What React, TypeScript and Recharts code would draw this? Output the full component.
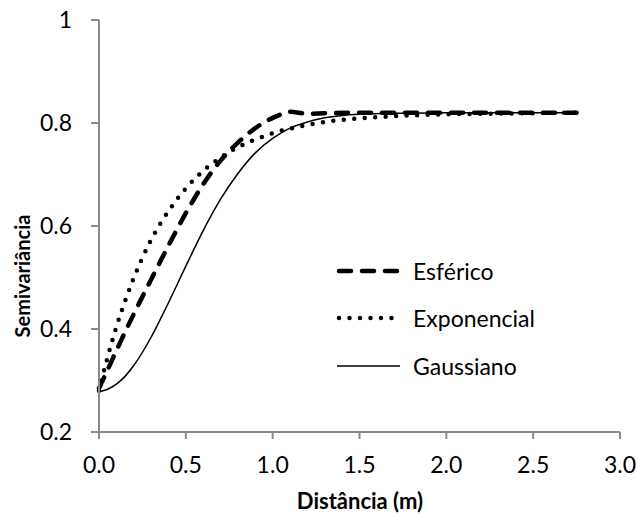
import { Label, Line, LineChart, XAxis, YAxis } from 'recharts';

// distância (m) e semivariância estimada por cada modelo ajustado
const distancias = [
  0, 0.05, 0.1, 0.15, 0.2, 0.3, 0.4, 0.5, 0.6, 0.7, 0.8, 0.9, 1.0, 1.05, 1.1,
  1.2, 1.3, 1.5, 1.75, 2.0, 2.25, 2.5, 2.75,
];
const esferico = [
  0.285, 0.321, 0.358, 0.394, 0.429, 0.496, 0.562, 0.625, 0.681, 0.727, 0.762,
  0.79, 0.81, 0.817, 0.822, 0.818, 0.819, 0.82, 0.82, 0.82, 0.82, 0.82, 0.82,
];
const exponencial = [
  0.28, 0.346, 0.404, 0.454, 0.499, 0.573, 0.629, 0.673, 0.707, 0.733, 0.753,
  0.768, 0.78, 0.785, 0.789, 0.796, 0.802, 0.809, 0.814, 0.817, 0.818, 0.819,
  0.82,
];
const gaussiano = [
  0.278, 0.283, 0.293, 0.308, 0.329, 0.384, 0.451, 0.522, 0.591, 0.652, 0.702,
  0.742, 0.77, 0.781, 0.79, 0.802, 0.81, 0.817, 0.819, 0.82, 0.82, 0.82, 0.82,
];

const xTicks = [0, 0.5, 1, 1.5, 2, 2.5, 3];
const yTicks = [0.2, 0.4, 0.6, 0.8, 1];

const data = distancias.map((x, i) => ({
  x,
  esferico: esferico[i],
  exponencial: exponencial[i],
  gaussiano: gaussiano[i],
}));

const FONT = 'Lato, "Open Sans", sans-serif';
const AXIS = '#8a8a8a';

const series = [
  { key: 'esferico', name: 'Esférico', width: 4.5, dash: '12 11' },
  { key: 'exponencial', name: 'Exponencial', width: 4.5, dash: '0 10.5' },
  { key: 'gaussiano', name: 'Gaussiano', width: 1.5, dash: undefined },
];

// legenda desenhada por cima da área do gráfico
function LegendBox() {
  return (
    <div
      style={{
        position: 'absolute',
        left: 333,
        top: 247,
        fontFamily: FONT,
        fontSize: 23,
        color: '#000',
      }}
    >
      {series.map((s) => (
        <div
          key={s.key}
          style={{ display: 'flex', alignItems: 'center', height: 47.5 }}
        >
          <svg width={70} height={20} style={{ marginRight: 10 }}>
            <line
              x1={s.dash ? 6 : 4}
              y1={10}
              x2={s.dash ? 66 : 67}
              y2={10}
              stroke="#000"
              strokeWidth={s.width}
              strokeDasharray={s.dash}
              strokeLinecap={s.dash ? 'round' : 'butt'}
            />
          </svg>
          <span>{s.name}</span>
        </div>
      ))}
    </div>
  );
}

export default function App() {
  return (
    <div style={{ position: 'absolute', left: 0, top: 0, background: '#fff' }}>
      <LineChart
        width={637}
        height={515}
        data={data}
        margin={{ top: 20, right: 17, bottom: 0, left: 0 }}
      >
        <XAxis
          type="number"
          dataKey="x"
          domain={[0, 3]}
          ticks={xTicks}
          tickFormatter={(v: number) => v.toFixed(1)}
          height={83}
          stroke={AXIS}
          strokeWidth={2}
          tickSize={7}
          tickMargin={18}
          tick={{ fill: '#000', fontSize: 23, fontFamily: FONT }}
        >
          <Label
            content={() => (
              <text
                x={360}
                y={509}
                textAnchor="middle"
                fontFamily={FONT}
                fontSize={22}
                fontWeight="bold"
                fill="#000"
              >
                Distância (m)
              </text>
            )}
          />
        </XAxis>
        <YAxis
          type="number"
          domain={[0.2, 1]}
          ticks={yTicks}
          tickFormatter={(v: number) => (v === 1 ? '1' : v.toFixed(1))}
          width={99}
          stroke={AXIS}
          strokeWidth={2}
          tickSize={8}
          tickMargin={19}
          tick={{ fill: '#000', fontSize: 23, fontFamily: FONT }}
        >
          <Label
            content={() => (
              <text
                x={30}
                y={276}
                transform="rotate(-90 30 276)"
                textAnchor="middle"
                fontFamily={FONT}
                fontSize={20}
                fontWeight="bold"
                fill="#000"
              >
                Semivariância
              </text>
            )}
          />
        </YAxis>
        {series.map((s) => (
          <Line
            key={s.key}
            dataKey={s.key}
            name={s.name}
            type="monotone"
            stroke="#000"
            strokeWidth={s.width}
            strokeDasharray={s.dash}
            strokeLinecap="round"
            dot={false}
            activeDot={false}
            isAnimationActive={false}
          />
        ))}
      </LineChart>
      <LegendBox />
    </div>
  );
}
